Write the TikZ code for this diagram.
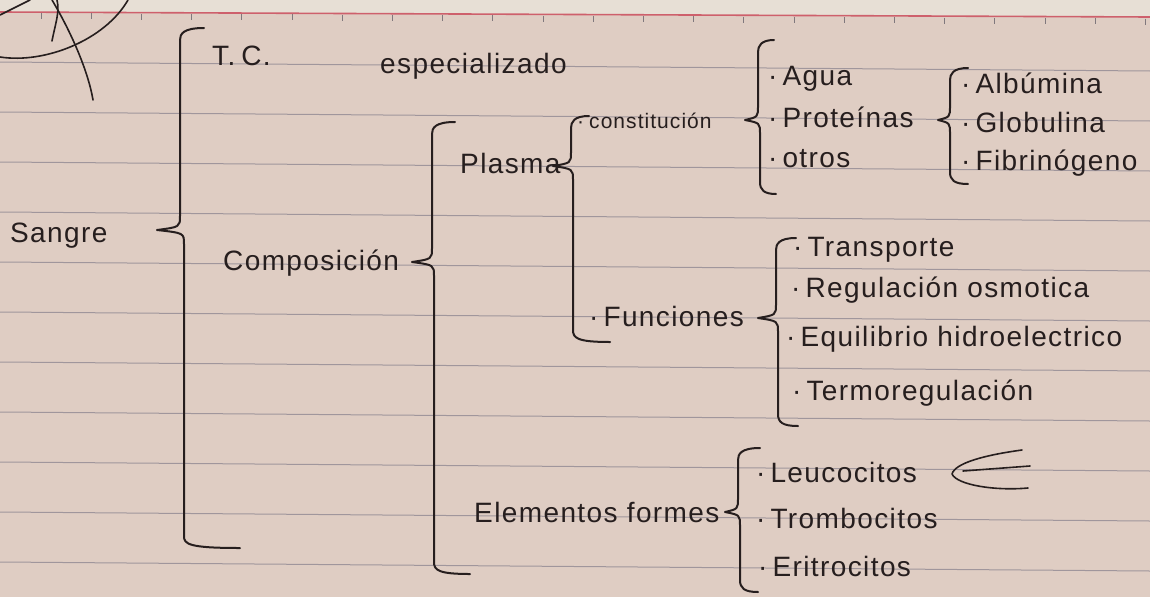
\documentclass[tikz,border=0pt]{standalone}
\usepackage{fontspec}
\setmainfont{Liberation Sans}[LetterSpace=5]
\usetikzlibrary{calc}
\definecolor{paper}{RGB}{223,205,195}
\definecolor{papertop}{RGB}{231,223,213}
\definecolor{rulecol}{RGB}{160,150,156}
\definecolor{margincol}{RGB}{206,96,108}
\definecolor{ink}{RGB}{38,30,30}

% curly bracket drawn by hand: top, tip, bottom, upper hook, lower hook
\newcommand{\handbrace}[5]{%
  \draw[pen] ($(#1)+(#4,-12)$) .. controls ($(#1)+(3,-12)$) and ($(#1)+(0,-6)$) .. (#1)
    -- ($(#1|-#2)+(0,-14)$) .. controls ($(#1|-#2)+(0,-3)$) .. (#2)
    .. controls ($(#3|-#2)+(0,3)$) .. ($(#3|-#2)+(0,14)$)
    -- (#3) .. controls ($(#3)+(0,8)$) and ($(#3)+(4,12)$) .. ($(#3)+(#5,12)$);}
\newcommand{\dotitem}[1]{·\hspace{5pt}#1}

\begin{document}
\begin{tikzpicture}[x=1pt, y=-1pt,
    pen/.style={draw=ink, line width=2pt, line cap=round, line join=round},
    hand/.style={anchor=base west, inner sep=0pt, text=ink, font=\fontsize{28}{30}\selectfont},
    handsm/.style={hand, font=\fontsize{21}{24}\selectfont}]
        \useasboundingbox (0,0) rectangle (1150,597);
        % paper
        \fill[paper] (0,0) rectangle (1150,597);
        \fill[papertop] (0,0) -- (1150,0) -- (1150,17) -- (0,12) -- cycle;
        \foreach \k in {0,...,10}
            \draw[rulecol, line width=1pt] (0,62+50*\k) -- (1150,71+50*\k);
        \draw[margincol, line width=1.6pt] (0,12) -- (1150,17);
        \foreach \k in {0,...,22}
            \draw[rulecol!80!black, line width=1pt] (41+50.2*\k,13+0.005*\k*50) -- ++(0,6);
        % scribble in the corner
        \draw[pen, line width=1.6pt] (0,57) .. controls (45,64) and (105,40) .. (128,0);
        \draw[pen, line width=1.6pt] (0,15) -- (30,0);
        \draw[pen, line width=1.6pt] (52,41) .. controls (55,25) and (60,12) .. (57,0);
        \draw[pen, line width=1.6pt] (52,0) .. controls (70,30) and (88,70) .. (93,100);

        % first level
        \node[hand] (sangre) at (10,242) {Sangre};
        \coordinate (sangre-top) at (180,40);
        \coordinate (sangre-tip) at (157,230);
        \coordinate (sangre-bot) at (184,536);
        \handbrace{sangre-top}{sangre-tip}{sangre-bot}{24}{56}
        \node[hand] (tc) at (212,65) {T.\hspace{6pt}C.};
        \node[hand] (espec) at (380,73) {especializado};
        \node[hand] (compo) at (223,270) {Composición};

        % composicion
        \coordinate (compo-top) at (432,134);
        \coordinate (compo-tip) at (412,262);
        \coordinate (compo-bot) at (434,562);
        \handbrace{compo-top}{compo-tip}{compo-bot}{23}{36}
        \node[hand] (plasma) at (460,173) {Plasma};
        \node[hand] (elem) at (474,522) {Elementos formes};

        % plasma
        \coordinate (plasma-top) at (571,128);
        \coordinate (plasma-tip) at (553,166);
        \coordinate (plasma-bot) at (573,330);
        \handbrace{plasma-top}{plasma-tip}{plasma-bot}{18}{37}
        \node[handsm] (consti) at (577,128) {\dotitem{constitución}};
        \node[hand] (func) at (589,326) {\dotitem{Funciones}};

        % constitucion
        \coordinate (consti-top) at (758,52);
        \coordinate (consti-tip) at (745,120);
        \coordinate (consti-bot) at (760,182);
        \handbrace{consti-top}{consti-tip}{consti-bot}{16}{16}
        \node[hand] (agua) at (768,85) {\dotitem{Agua}};
        \node[hand] (prot) at (768,127) {\dotitem{Proteínas}};
        \node[hand] (otros) at (768,167) {\dotitem{otros}};

        % proteinas
        \coordinate (prot-top) at (950,80);
        \coordinate (prot-tip) at (938,120);
        \coordinate (prot-bot) at (950,172);
        \handbrace{prot-top}{prot-tip}{prot-bot}{18}{18}
        \node[hand] (albu) at (961,93) {\dotitem{Albúmina}};
        \node[hand] (glob) at (961,132) {\dotitem{Globulina}};
        \node[hand] (fibri) at (961,170) {\dotitem{Fibrinógeno}};

        % funciones
        \coordinate (func-top) at (776,250);
        \coordinate (func-tip) at (758,318);
        \coordinate (func-bot) at (778,414);
        \handbrace{func-top}{func-tip}{func-bot}{20}{20}
        \node[hand] (transp) at (793,256) {\dotitem{Transporte}};
        \node[hand] (regul) at (791,297) {\dotitem{Regulación osmotica}};
        \node[hand] (equil) at (786,346) {\dotitem{Equilibrio hidroelectrico}};
        \node[hand] (termo) at (792,400) {\dotitem{Termoregulación}};

        % elementos formes
        \coordinate (elem-top) at (738,460);
        \coordinate (elem-tip) at (725,512);
        \coordinate (elem-bot) at (740,580);
        \handbrace{elem-top}{elem-tip}{elem-bot}{22}{18}
        \node[hand] (leuco) at (756,482) {\dotitem{Leucocitos}};
        \node[hand] (tromb) at (756,528) {\dotitem{Trombocitos}};
        \node[hand] (eritr) at (758,576) {\dotitem{Eritrocitos}};
        % mark after leucocitos
        \draw[pen, line width=1.6pt] (1022,450) .. controls (985,455) and (955,463) .. (952,474)
            .. controls (957,485) and (995,491) .. (1028,488);
        \draw[pen, line width=1.6pt] (963,471) -- (1030,466);
    \end{tikzpicture}
\end{document}
